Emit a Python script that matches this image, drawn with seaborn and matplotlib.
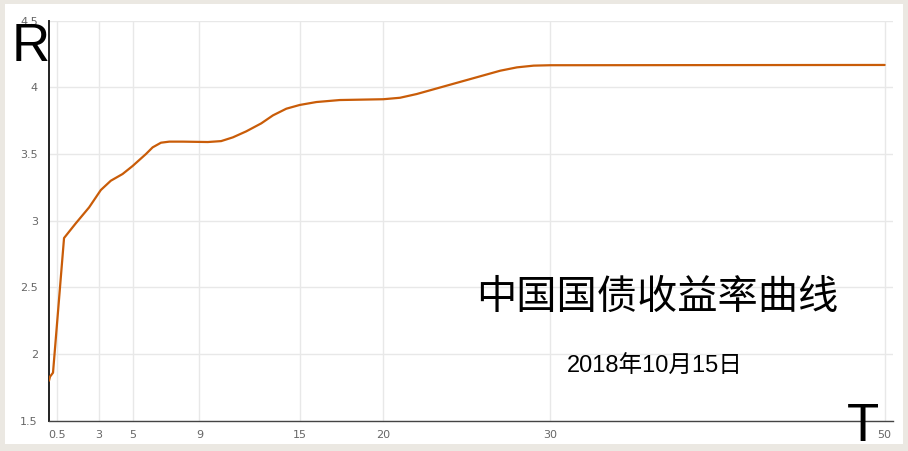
import seaborn as sns
import matplotlib.pyplot as plt
import pandas as pd
from matplotlib.patches import Rectangle

# Yield curve (tenor in years, yield in %)
tenor = [0.0, 0.06, 0.24, 0.9, 1.6, 2.4, 3.1, 3.7, 4.4, 5.0, 5.8, 6.2, 6.7, 7.2, 8.0, 9.5, 10.3,
         11.0, 11.8, 12.7, 13.4, 14.2, 15.0, 16.0, 17.4, 20.0, 21.0, 22.0, 23.0, 24.0,
         25.0, 26.0, 27.0, 28.0, 29.0, 30.0, 50.0]
yield_pct = [1.80, 1.83, 1.86, 2.87, 2.98, 3.10, 3.23, 3.30, 3.35, 3.41, 3.50, 3.55, 3.585, 3.593,
             3.593, 3.590, 3.597, 3.625, 3.67, 3.73, 3.79, 3.84, 3.868, 3.89, 3.905, 3.911,
             3.922, 3.95, 3.985, 4.02, 4.055, 4.09, 4.125, 4.15, 4.163, 4.166, 4.168]

x_ticks = [0.5, 3, 5, 9, 15, 20, 30, 50]
x_labels = ['0.5', '3', '5', '9', '15', '20', '30', '50']
y_ticks = [1.5, 2, 2.5, 3, 3.5, 4, 4.5]
y_labels = ['1.5', '2', '2.5', '3', '3.5', '4', '4.5']

title_text = '中国国债收益率曲线'
date_text = '2018年10月15日'

df = pd.DataFrame({'T': tenor, 'R': yield_pct})

sns.set_style("white")
plt.rcParams['font.family'] = ['DejaVu Sans', 'Noto Sans CJK SC']

fig = plt.figure(figsize=(9.08, 4.51), dpi=100)
fig.patch.set_facecolor('#ebe8e2')
# white card behind the chart
fig.patches.append(Rectangle((5 / 908, 7 / 451), 898 / 908, 440 / 451,
                             transform=fig.transFigure, facecolor='white',
                             edgecolor='none', zorder=-5))

ax = fig.add_axes([49 / 908, 1 - 420.7 / 451, 844 / 908, 400 / 451])
ax.set_facecolor('none')

sns.lineplot(data=df, x='T', y='R', ax=ax, color='#c95c08', linewidth=1.6, zorder=3)

ax.set_xlim(0, 50.5)
ax.set_ylim(1.5, 4.5)
ax.set_xticks(x_ticks)
ax.set_xticklabels(x_labels)
ax.set_yticks(y_ticks)
ax.set_yticklabels(y_labels)
ax.set_xlabel('')
ax.set_ylabel('')

ax.grid(True, color='#e8e8e8', linewidth=1.0)
ax.set_axisbelow(True)

for side in ['top', 'right']:
    ax.spines[side].set_visible(False)
ax.spines['left'].set_color('#222222')
ax.spines['left'].set_linewidth(1.4)
ax.spines['bottom'].set_color('#444444')
ax.spines['bottom'].set_linewidth(1.0)

ax.tick_params(axis='y', length=4, width=1, color='#444444', pad=4,
               labelsize=8, labelcolor='#666666')
ax.tick_params(axis='x', length=0, pad=7, labelsize=8, labelcolor='#666666')

# big axis letters
fig.text(12 / 908, 1 - 61 / 451, 'R', fontsize=38, family='Liberation Sans',
         color='black', ha='left', va='baseline')
fig.text(863 / 908, 1 - 441 / 451, 'T', fontsize=38, family='Liberation Sans',
         color='black', ha='center', va='baseline')

# title and date
fig.text(657 / 908, 1 - 297 / 451, title_text, fontsize=29,
         family=['Noto Sans CJK SC', 'DejaVu Sans'], color='black',
         ha='center', va='center')
fig.text(655 / 908, 1 - 367 / 451, date_text, fontsize=17,
         family=['Liberation Sans', 'Noto Sans CJK SC'], color='black',
         ha='center', va='center')

plt.savefig('out.png', dpi=100, facecolor=fig.get_facecolor())
